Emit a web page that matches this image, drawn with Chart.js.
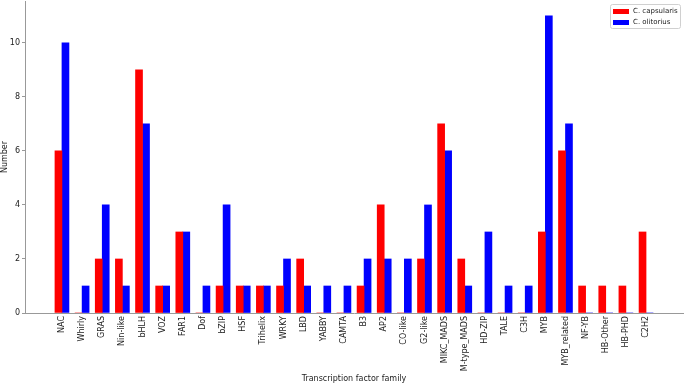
<!DOCTYPE html>
<html>
<head>
<meta charset="utf-8">
<script src="https://cdn.jsdelivr.net/npm/chart.js@4.4.0/dist/chart.umd.min.js"></script>
<style>
  html, body { margin: 0; padding: 0; background: #fff; }
  #wrap { width: 685px; height: 386px; }
</style>
</head>
<body>
<div id="wrap"><canvas id="chart"></canvas></div>
<script>
const families = ["NAC", "Whirly", "GRAS", "Nin-like", "bHLH", "VOZ", "FAR1", "Dof", "bZIP", "HSF",
  "Trihelix", "WRKY", "LBD", "YABBY", "CAMTA", "B3", "AP2", "CO-like", "G2-like", "MIKC_MADS",
  "M-type_MADS", "HD-ZIP", "TALE", "C3H", "MYB", "MYB_related", "NF-YB", "HB-Other", "HB-PHD", "C2H2"];
const capsularis = [6, 0, 2, 2, 9, 1, 3, 0, 1, 1, 1, 1, 2, 0, 0, 1, 4, 0, 2, 7, 2, 0, 0, 0, 3, 6, 1, 1, 1, 3];
const olitorius = [10, 1, 4, 1, 7, 1, 3, 1, 4, 1, 1, 2, 1, 1, 1, 2, 2, 2, 4, 6, 1, 3, 1, 1, 11, 7, 0, 0, 0, 0];
const yTicks = [0, 2, 4, 6, 8, 10];

const toPoints = (vals) => vals.map((v, i) => ({ x: i, y: v }));

// legend drawn inside the plot, like matplotlib's upper right box
const boxLegend = {
  id: "boxLegend",
  afterDraw(chart) {
    const ctx = chart.ctx;
    const area = chart.chartArea;
    const x = area.right - 73, y = area.top + 3, w = 70, h = 24;
    ctx.save();
    ctx.fillStyle = "rgba(255,255,255,0.8)";
    ctx.strokeStyle = "#d0d0d0";
    ctx.lineWidth = 1;
    ctx.beginPath();
    ctx.roundRect(x + 0.5, y + 0.5, w, h, 2);
    ctx.fill();
    ctx.stroke();
    ctx.font = "7px 'DejaVu Sans'";
    ctx.textBaseline = "middle";
    chart.data.datasets.forEach((ds, i) => {
      const cy = y + 7 + i * 11;
      ctx.fillStyle = ds.backgroundColor;
      ctx.fillRect(x + 3, cy - 2, 16, 5);
      ctx.fillStyle = "#222";
      ctx.fillText(ds.label, x + 23, cy + 0.5);
    });
    ctx.restore();
  }
};

new Chart(document.getElementById("chart"), {
  type: "bar",
  data: {
    datasets: [
      { label: "C. capsularis", data: toPoints(capsularis), backgroundColor: "#ff0000", barThickness: 7 },
      { label: "C. olitorius", data: toPoints(olitorius), backgroundColor: "#0000ff", barThickness: 7 }
    ]
  },
  options: {
    responsive: true,
    maintainAspectRatio: false,
    animation: false,
    layout: { autoPadding: false, padding: { top: 1, right: 2, left: 0, bottom: 0 } },
    plugins: { legend: { display: false }, tooltip: { enabled: false } },
    scales: {
      x: {
        type: "linear",
        offset: false,
        min: -1.835,
        max: 30.835,
        afterBuildTicks: (scale) => { scale.ticks = families.map((f, i) => ({ value: i })); },
        afterFit: (scale) => { scale.height = 73; },
        ticks: {
          autoSkip: false,
          minRotation: 90,
          maxRotation: 90,
          padding: 3,
          color: "#222",
          font: { family: "DejaVu Sans", size: 8 },
          callback: (v) => families[v]
        },
        grid: { display: false, drawTicks: false },
        border: { color: "#999", width: 1 },
        title: {
          display: true,
          text: "Transcription factor family",
          color: "#222",
          font: { family: "DejaVu Sans", size: 8 },
          padding: { top: 0, bottom: 2 }
        }
      },
      y: {
        min: 0,
        max: 11.55,
        afterBuildTicks: (scale) => { scale.ticks = yTicks.map((v) => ({ value: v })); },
        afterFit: (scale) => {
          scale.width = 25;
          // top tick sits well below the axis top, no label room needed
          scale.paddingTop = 0;
          scale.paddingBottom = 0;
        },
        ticks: {
          padding: 2,
          color: "#222",
          font: { family: "DejaVu Sans", size: 8 }
        },
        grid: { drawOnChartArea: false, drawTicks: true, tickLength: 3, color: "#999" },
        border: { color: "#999", width: 1 },
        title: {
          display: true,
          text: "Number",
          color: "#222",
          font: { family: "DejaVu Sans", size: 8 },
          padding: { top: 0, bottom: 0 }
        }
      }
    }
  },
  plugins: [boxLegend]
});
</script>
</body>
</html>
